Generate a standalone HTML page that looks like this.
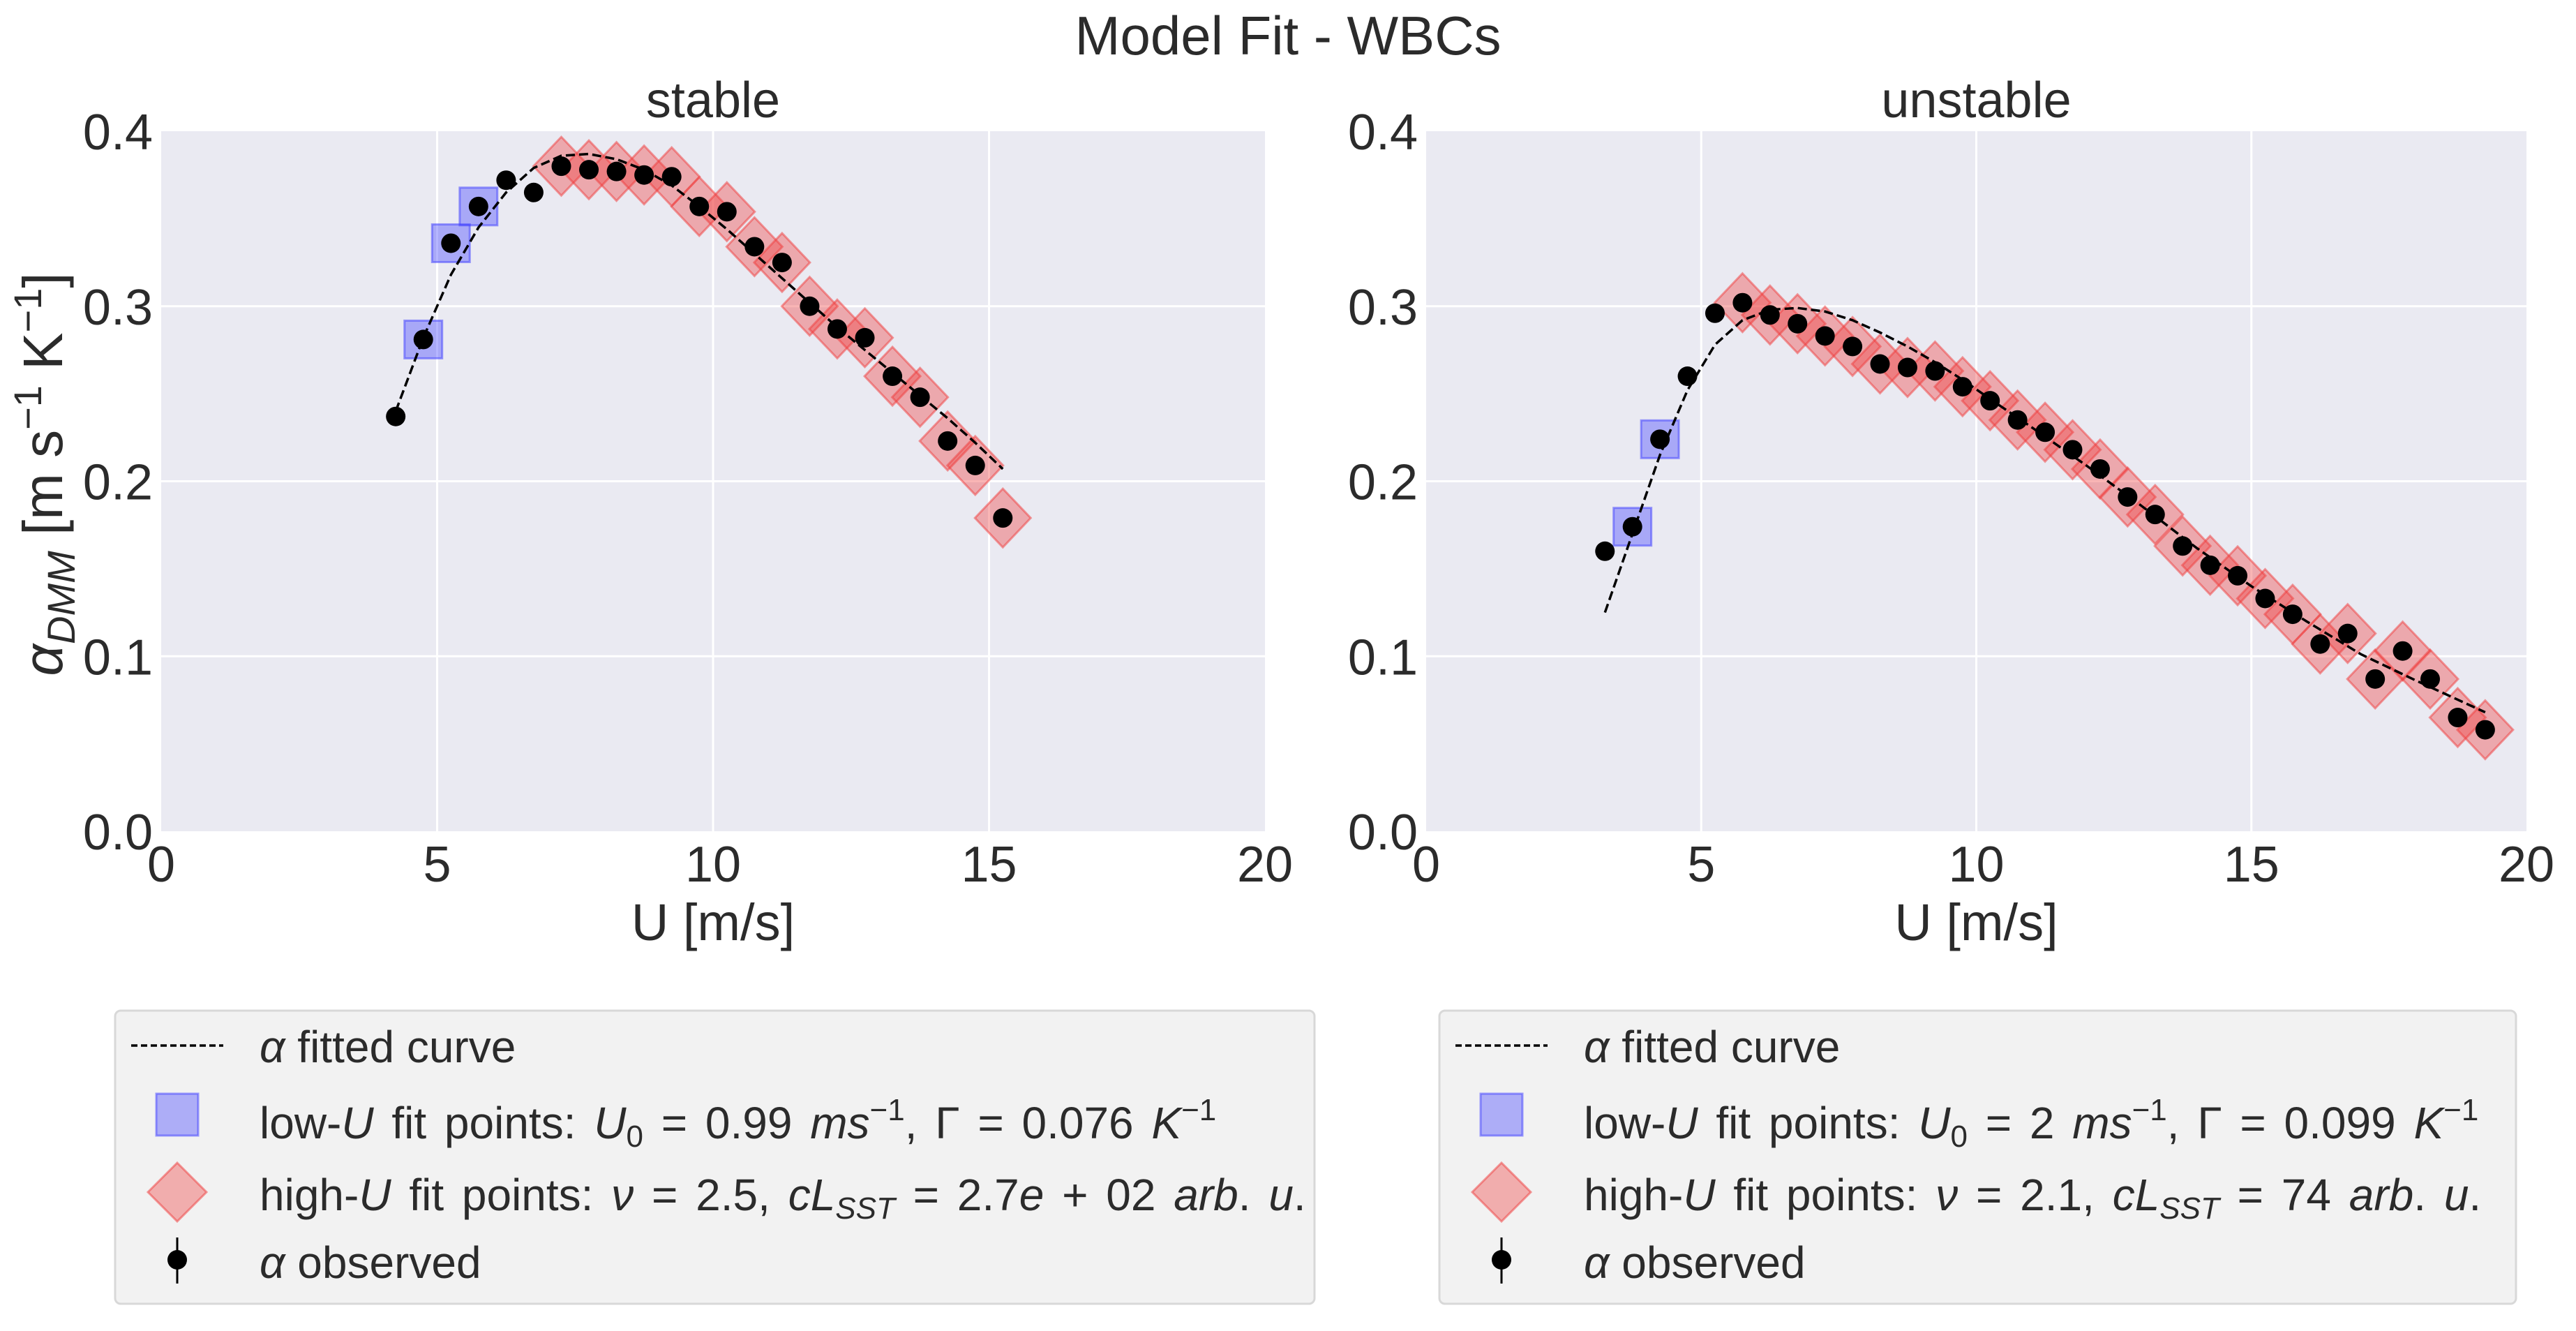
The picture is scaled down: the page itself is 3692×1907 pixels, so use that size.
<!DOCTYPE html>
<html><head><meta charset="utf-8"><style>
html,body{margin:0;padding:0;background:#fff}
svg{display:block}
text{font-family:"Liberation Sans","DejaVu Sans",sans-serif;fill:#2b2b2b}
</style></head><body>
<svg id="fig" width="3692" height="1907" viewBox="0 0 3692 1907" xmlns="http://www.w3.org/2000/svg">
<text x="1846" y="78" font-size="78" text-anchor="middle">Model Fit - WBCs</text>
<g id="panels"></g>
<g id="legends"></g>
</svg>
<script>
const xTicks=[0,5,10,15,20];
const yTicks=[0.0,0.1,0.2,0.3,0.4];
const yTickLabels=["0.0","0.1","0.2","0.3","0.4"];
// stable
const stableU=[4.25,4.75,5.25,5.75,6.25,6.75,7.25,7.75,8.25,8.75,9.25,9.75,10.25,10.75,11.25,11.75,12.25,12.75,13.25,13.75,14.25,14.75,15.25];
const stableAlpha=[0.237,0.281,0.336,0.357,0.372,0.365,0.380,0.378,0.377,0.375,0.374,0.357,0.354,0.334,0.325,0.300,0.287,0.282,0.260,0.248,0.223,0.209,0.179];
const stableLowU=[4.75,5.25,5.75];
const stableHighU=[7.25,7.75,8.25,8.75,9.25,9.75,10.25,10.75,11.25,11.75,12.25,12.75,13.25,13.75,14.25,14.75,15.25];
const stableFitU=[4.25,4.75,5.25,5.75,6.25,6.75,7.25,7.75,8.25,8.75,9.25,9.75,10.25,10.75,11.25,11.75,12.25,12.75,13.25,13.75,14.25,14.75,15.25];
const stableFitA=[0.240,0.282,0.318,0.345,0.365,0.379,0.386,0.387,0.384,0.378,0.369,0.357,0.344,0.330,0.316,0.302,0.288,0.275,0.262,0.249,0.236,0.222,0.207];
// unstable
const unstableU=[3.25,3.75,4.25,4.75,5.25,5.75,6.25,6.75,7.25,7.75,8.25,8.75,9.25,9.75,10.25,10.75,11.25,11.75,12.25,12.75,13.25,13.75,14.25,14.75,15.25,15.75,16.25,16.75,17.25,17.75,18.25,18.75,19.25];
const unstableAlpha=[0.160,0.174,0.224,0.260,0.296,0.302,0.295,0.290,0.283,0.277,0.267,0.265,0.263,0.254,0.246,0.235,0.228,0.218,0.207,0.191,0.181,0.163,0.152,0.146,0.133,0.124,0.107,0.113,0.087,0.103,0.087,0.065,0.058];
const unstableLowU=[3.75,4.25];
const unstableHighU=[5.75,6.25,6.75,7.25,7.75,8.25,8.75,9.25,9.75,10.25,10.75,11.25,11.75,12.25,12.75,13.25,13.75,14.25,14.75,15.25,15.75,16.25,16.75,17.25,17.75,18.25,18.75,19.25];
const unstableFitU=[3.25,3.75,4.25,4.75,5.25,5.75,6.25,6.75,7.25,7.75,8.25,8.75,9.25,9.75,10.25,11,12,13,14,15,16,17,18,19.25];
const unstableFitA=[0.125,0.170,0.215,0.252,0.278,0.292,0.298,0.299,0.297,0.292,0.285,0.277,0.268,0.258,0.247,0.231,0.209,0.186,0.162,0.140,0.120,0.101,0.086,0.068];

const NS="http://www.w3.org/2000/svg";
function mk(tag,attrs,parent){const e=document.createElementNS(NS,tag);for(const k in attrs)e.setAttribute(k,attrs[k]);parent.appendChild(e);return e;}

function panel(opts){
  const g=mk('g',{},document.getElementById('panels'));
  
  
  const L=opts.x0,R=opts.x1,T=188,B=1191;
  const sx=v=>L+(v-0)/(20-0)*(R-L);
  const sy=v=>B-(v-0)/(0.4-0)*(B-T);
  const bg=mk('rect',{x:L,y:T,width:R-L,height:B-T,fill:'#eaeaf2'},g);
  
  
  xTicks.forEach(t=>{
    if(t>0&&t<20){const l=mk('line',{x1:sx(t),x2:sx(t),y1:T,y2:B,stroke:'#fff','stroke-width':3},g);
    
    }
    const tx=mk('text',{x:sx(t),y:B+72,'font-size':72,'text-anchor':'middle'},g);tx.textContent=t;
    
    
  });
  yTicks.forEach((t,i)=>{
    if(t>0&&t<0.4){const l=mk('line',{x1:L,x2:R,y1:sy(t),y2:sy(t),stroke:'#fff','stroke-width':3},g);
    
    }
    const tx=mk('text',{x:L-12,y:sy(t)+26,'font-size':72,'text-anchor':'end'},g);tx.textContent=yTickLabels[i];
    
    
  });
  const ti=mk('text',{x:(L+R)/2,y:168,'font-size':72,'text-anchor':'middle'},g);ti.textContent=opts.title;
  
  
  const xl=mk('text',{x:(L+R)/2,y:1347,'font-size':74,'text-anchor':'middle'},g);xl.textContent='U [m/s]';
  
  
  const idx=u=>opts.U.indexOf(u);
  opts.low.forEach(u=>{const cx=sx(u),cy=sy(opts.A[idx(u)]);
    const s=mk('rect',{x:cx-27,y:cy-27,width:54,height:54,fill:'rgba(60,60,255,0.38)',stroke:'rgba(60,60,255,0.5)','stroke-width':3},g);
    
    });
  opts.high.forEach(u=>{const cx=sx(u),cy=sy(opts.A[idx(u)]);
    const d=mk('polygon',{points:`${cx},${cy-42} ${cx+40},${cy} ${cx},${cy+42} ${cx-40},${cy}`,fill:'rgba(240,60,60,0.38)',stroke:'rgba(240,60,60,0.5)','stroke-width':3},g);
    
    });
  const pts=opts.fitU.map((u,i)=>sx(u)+','+sy(opts.fitA[i])).join(' ');
  const pl=mk('polyline',{points:pts,fill:'none',stroke:'#000','stroke-width':3.5,'stroke-dasharray':'13 6'},g);
  
  
  opts.U.forEach((u,i)=>{const c=mk('circle',{cx:sx(u),cy:sy(opts.A[i]),r:14,fill:'#000'},g);
    
    });
  if(opts.ylabel){
    const yl=mk('text',{x:0,y:0,'font-size':80,'text-anchor':'middle',transform:`translate(${L-142},${(T+B)/2-10}) rotate(-90)`},g);
    yl.innerHTML='<tspan font-style="italic">α</tspan><tspan font-style="italic" font-size="56" dy="18">DMM</tspan><tspan dy="-18"> [m s</tspan><tspan font-size="56" dy="-30">−1</tspan><tspan dy="30"> K</tspan><tspan font-size="56" dy="-30">−1</tspan><tspan dy="30">]</tspan>';
    
    
  }
}
panel({name:'stable-panel',title:'stable',x0:231,x1:1813,U:stableU,A:stableAlpha,low:stableLowU,high:stableHighU,fitU:stableFitU,fitA:stableFitA,ylabel:true});
panel({name:'unstable-panel',title:'unstable',x0:2044,x1:3621,U:unstableU,A:unstableAlpha,low:unstableLowU,high:unstableHighU,fitU:unstableFitU,fitA:unstableFitA,ylabel:false});

function legend(name,x0,x1,lowTxt,highTxt){
  const g=mk('g',{},document.getElementById('legends'));
  
  
  const b=mk('rect',{x:x0,y:1448,width:x1-x0,height:420,rx:8,fill:'#f2f2f2',stroke:'#d8d8d8','stroke-width':3},g);
  
  
  const hx=x0+89, tx=x0+207;
  const rows=[1500,1609,1712,1809];
  const l=mk('line',{x1:hx-66,x2:hx+66,y1:rows[0]-2,y2:rows[0]-2,stroke:'#000','stroke-width':3.5,'stroke-dasharray':'9 5'},g);
  
  
  const s=mk('rect',{x:hx-30,y:rows[1]-42,width:60,height:60,fill:'rgba(60,60,255,0.38)',stroke:'rgba(60,60,255,0.5)','stroke-width':3},g);
  
  
  const cy=rows[2]-4;
  const d=mk('polygon',{points:`${hx},${cy-42} ${hx+42},${cy} ${hx},${cy+42} ${hx-42},${cy}`,fill:'rgba(240,60,60,0.38)',stroke:'rgba(240,60,60,0.5)','stroke-width':3},g);
  
  
  const el=mk('line',{x1:hx,x2:hx,y1:rows[3]-36,y2:rows[3]+30,stroke:'#000','stroke-width':3},g);
  
  
  const dot=mk('circle',{cx:hx,cy:rows[3]-4,r:14,fill:'#000'},g);
  
  
  const texts=['<tspan font-style="italic">α</tspan> fitted curve',lowTxt,highTxt,'<tspan font-style="italic">α</tspan> observed'];
  const names=['legend-fitted-label','legend-low-u-label','legend-high-u-label','legend-observed-label'];
  texts.forEach((t,i)=>{const e=mk('text',{x:tx,y:rows[i]+22,'font-size':64,'word-spacing':i===1||i===2?8:0},g);e.innerHTML=t;
    
    });
}
legend('legend-stable',165,1884,
 'low-<tspan font-style="italic">U</tspan> fit points: <tspan font-style="italic">U</tspan><tspan font-size="44" dy="12">0</tspan><tspan dy="-12"> = 0.99 </tspan><tspan font-style="italic">ms</tspan><tspan font-size="44" dy="-26">−1</tspan><tspan dy="26">, Γ = 0.076 </tspan><tspan font-style="italic">K</tspan><tspan font-size="44" dy="-26">−1</tspan>',
 'high-<tspan font-style="italic">U</tspan> fit points: <tspan font-style="italic">ν</tspan> = 2.5, <tspan font-style="italic">cL</tspan><tspan font-style="italic" font-size="44" dy="12">SST</tspan><tspan dy="-12"> = 2.7</tspan><tspan font-style="italic">e</tspan> + 02 <tspan font-style="italic">arb</tspan>. <tspan font-style="italic">u</tspan>.');
legend('legend-unstable',2063,3606,
 'low-<tspan font-style="italic">U</tspan> fit points: <tspan font-style="italic">U</tspan><tspan font-size="44" dy="12">0</tspan><tspan dy="-12"> = 2 </tspan><tspan font-style="italic">ms</tspan><tspan font-size="44" dy="-26">−1</tspan><tspan dy="26">, Γ = 0.099 </tspan><tspan font-style="italic">K</tspan><tspan font-size="44" dy="-26">−1</tspan>',
 'high-<tspan font-style="italic">U</tspan> fit points: <tspan font-style="italic">ν</tspan> = 2.1, <tspan font-style="italic">cL</tspan><tspan font-style="italic" font-size="44" dy="12">SST</tspan><tspan dy="-12"> = 74 </tspan><tspan font-style="italic">arb</tspan>. <tspan font-style="italic">u</tspan>.');
</script>
</body></html>
